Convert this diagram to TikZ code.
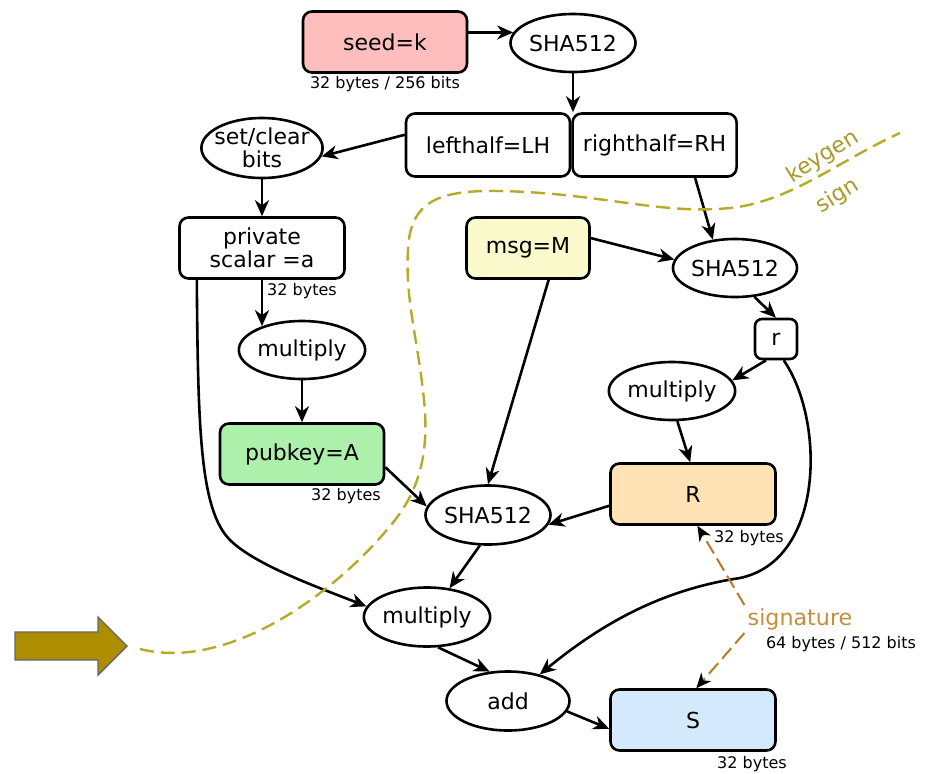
\documentclass[tikz,border=0pt]{standalone}
\usepackage{fontspec}
\setmainfont{DejaVu Sans}
\usepackage{xcolor}
\usetikzlibrary{arrows.meta, positioning, shapes.geometric}
\definecolor{seedred}{RGB}{255,190,190}
\definecolor{pubgreen}{RGB}{172,240,172}
\definecolor{msgyellow}{RGB}{250,250,205}
\definecolor{rorange}{RGB}{255,226,182}
\definecolor{sblue}{RGB}{212,233,252}
\definecolor{olive}{RGB}{182,170,38}
\definecolor{olivetext}{RGB}{170,152,40}
\definecolor{arrowgold}{RGB}{172,142,0}
\definecolor{sigbrown}{RGB}{185,122,40}
\definecolor{sigtext}{RGB}{198,140,62}

\begin{document}
\begin{tikzpicture}[x=0.5pt, y=-0.5pt, line width=1.3pt, >={Stealth[length=8pt, width=7pt, inset=2.5pt]},
    font=\fontsize{11}{11.5}\selectfont,
    box/.style={rectangle, draw, rounded corners=4.5pt, minimum width=82pt, minimum height=30.5pt, inner sep=0pt, align=center},
    oval/.style={ellipse, draw, minimum width=62.5pt, minimum height=29pt, inner sep=0pt, align=center},
    bytes/.style={font=\fontsize{8}{9}\selectfont, inner sep=0pt},
    boundary/.style={draw=olive, line width=1.2pt, dash pattern=on 7pt off 3.5pt},
    sigline/.style={draw=sigbrown, line width=1pt, dash pattern=on 7pt off 3pt, -{Stealth[length=7.5pt, width=6.5pt, inset=2.3pt, color=black]}}]
    \useasboundingbox (0,0) rectangle (934,773);

    \node[box, fill=seedred] (seed) at (385,42) {seed=k};
    \node[bytes] (seedsize) at (385,84) {32 bytes / 256 bits};
    \node[oval] (sha1) at (573,43) {SHA512};
    \node[box, minimum height=31.5pt] (lh) at (488,145) {lefthalf=LH};
    \node[box, minimum height=31.5pt, right=0pt of lh] (rh) {righthalf=RH};
    \node[oval, minimum width=60.5pt, minimum height=30pt, inner sep=-2.4pt] (bits) at (262,148) {set/clear\\bits};
    \node[box, minimum width=82.5pt] (priv) at (262,248) {private\\scalar =a};
    \node[bytes] (privsize) at (302,291) {32 bytes};
    \node[oval] (mulA) at (302,350) {multiply};
    \node[box, fill=pubgreen] (pub) at (302,454) {pubkey=A};
    \node[bytes] (pubsize) at (346,496) {32 bytes};
    \node[box, fill=msgyellow, minimum width=61.5pt] (msg) at (528,248) {msg=M};
    \node[oval, minimum width=62pt] (shaR) at (735,268) {SHA512};
    \node[box, minimum width=21pt, minimum height=20pt, rounded corners=3.5pt] (r) at (776,339) {r};
    \node[oval, minimum width=61.5pt] (mulR) at (672,391) {multiply};
    \node[box, fill=rorange, minimum width=82.5pt] (R) at (693,494) {R};
    \node[bytes] (Rsize) at (749,538) {32 bytes};
    \node[oval, minimum height=29.5pt] (shaM) at (488,515) {SHA512};
    \node[oval, minimum height=29.5pt] (mulS) at (427,617) {multiply};
    \node[oval, minimum width=61.5pt, minimum height=29.5pt] (add) at (508,701) {add};
    \node[box, fill=sblue, minimum width=82.5pt] (S) at (693,720) {S};
    \node[bytes] (Ssize) at (752,764) {32 bytes};
    \node[text=sigtext, font=\fontsize{11.1}{12}\selectfont, inner sep=1pt] (sig) at (800,619) {signature};
    \node[bytes] (sigsize) at (841,644) {64 bytes / 512 bits};
    \node[text=olivetext, rotate=32, inner sep=0pt] (keygen) at (823,157) {keygen};
    \node[text=olivetext, rotate=32, inner sep=0pt] (sign) at (838,196) {sign};

    \draw[->] (sha1.170 -| seed.east) -- (sha1.170);
    \draw[->] (sha1.south) -- (sha1.south |- lh.north);
    \draw[->] (lh.173) -- (bits.-8);
    \draw[->] (bits) -- (priv);
    \draw[->] (priv.south) -- (priv.south |- mulA.149);
    \draw[->] (mulA) -- (pub);
    \draw[->] (pub.-9) -- (shaM.172);
    \draw[->] (msg.-57) -- (shaM.north);
    \draw[->] (msg.9) -- (shaR.172);
    \draw[->] (rh.-39) -- (shaR.128);
    \draw[->] (shaR.-56) -- (r.north);
    \draw[->] (r.-115) -- (mulR.10);
    \draw[->] (mulR.-80) -- (R.95);
    \draw[->] (R.188) -- (shaM.-9);
    \draw[->] (shaM.-105) -- (mulS.52);
    \draw[->] (mulS.-70) -- (add.122);
    \draw[->] (add.-10) -- (S.186);
    \draw[->] (priv.206) .. controls (198,430) and (200,510) .. (230,540) .. controls (255,565) and (320,588) .. (mulS.170);
    \draw[->] (r.-70) .. controls (825,420) and (825,560) .. (740,578) .. controls (660,590) and (600,625) .. (add.40);
    \draw[sigline] (sig.north west) -- (R.-82);
    \draw[sigline] (sig.south west) -- (S.84);

    \draw[boundary] (140,649) .. controls (230,672) and (340,590) .. (395,520)
        .. controls (425,482) and (428,440) .. (424,400)
        .. controls (418,340) and (405,300) .. (408,250)
        .. controls (410,200) and (440,190) .. (500,191)
        .. controls (600,193) and (660,215) .. (730,208)
        .. controls (790,202) and (840,160) .. (900,133);

    \draw[draw=gray!80!black, fill=arrowgold, line width=0.7pt] (15,632) -- (98,632) -- (98,617) -- (127,646) -- (98,675) -- (98,660) -- (15,660) -- cycle;
\end{tikzpicture}
\end{document}
